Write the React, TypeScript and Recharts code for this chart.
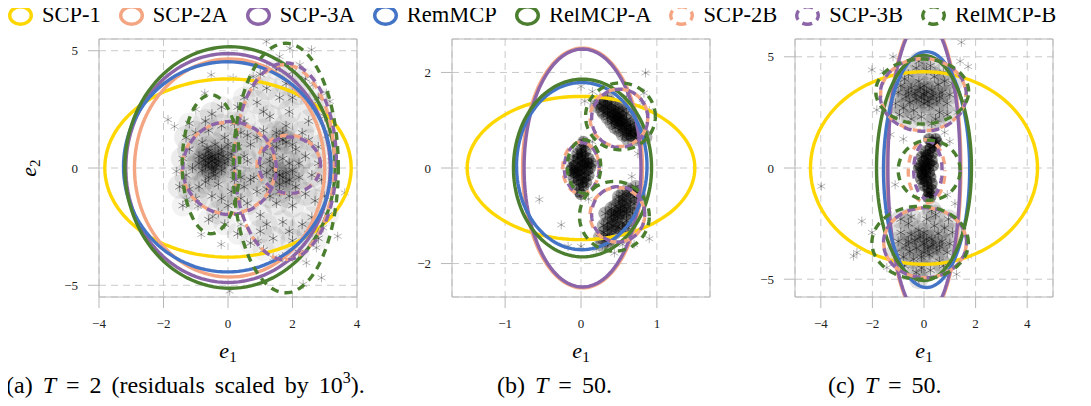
import React from "react";
import { ScatterChart, Scatter, XAxis, YAxis, CartesianGrid } from "recharts";

const FONT = '"Liberation Serif", "Times New Roman", serif';

type Pt = [number, number];
// cx, cy, rx, ry in data units
type Ell = [number, number, number, number];

const SERIES = [
  { name: "SCP-1", color: "#FFD700", dashed: false },
  { name: "SCP-2A", color: "#F4A582", dashed: false },
  { name: "SCP-3A", color: "#8C65A8", dashed: false },
  { name: "RemMCP", color: "#4474C6", dashed: false },
  { name: "RelMCP-A", color: "#4B7F2F", dashed: false },
  { name: "SCP-2B", color: "#F4A582", dashed: true },
  { name: "SCP-3B", color: "#8C65A8", dashed: true },
  { name: "RelMCP-B", color: "#4B7F2F", dashed: true },
];

// ---------- panel (a) ----------
const aTicksX = [-4, -2, 0, 2, 4];
const aTicksY = [-5, 0, 5];
const aLeftCloud: Pt[] = [
  [-0.5, 0.3], [-0.3, 0.6], [-0.7, 0.1], [-0.2, -0.1], [-0.9, 0.5], [-0.4, 1.0], [-0.6, -0.4], [-1.1, 0.0],
  [0.0, 0.4], [-0.1, 1.3], [-0.8, 1.1], [-1.2, 0.8], [-0.3, -0.7], [-0.9, -0.8], [0.2, 0.0], [-1.3, -0.3],
  [-0.6, 1.6], [-0.2, 1.8], [0.3, 0.9], [0.4, -0.4], [-0.5, -1.2], [-1.0, -1.3], [0.1, -1.0], [-0.7, 2.0],
  [-1.4, 0.4], [0.5, 0.5], [-0.4, 0.0], [-0.8, -0.1], [-0.1, 0.2], [-0.6, 0.7], [-1.0, 1.5], [0.0, -1.6],
  [-0.3, -1.9], [0.6, 1.4], [0.2, 1.9], [-1.2, -0.9], [-0.5, 2.3], [0.4, -1.3], [0.7, -0.5], [-0.9, 0.2],
  [-0.2, 0.8], [-0.4, -0.3], [0.1, 0.6], [-0.7, -0.6], [-0.55, 0.45], [-0.35, 0.15], [-0.75, 0.35],
  [-0.15, 0.5], [-0.45, -0.15], [-0.65, 0.85], [-0.5, 0.5], [-0.6, 0.2], [-0.4, 0.4], [-0.7, 0.5],
  [-0.3, 0.3], [-0.5, 0.0], [-1.5, -0.8], [-1.3, 1.3], [0.0, 1.0], [0.2, -0.5], [-0.2, -1.3],
];
const aRightCloud: Pt[] = [
  [1.6, -0.3], [1.4, 0.5], [1.9, 0.2], [1.2, -0.9], [2.1, -0.8], [1.7, 1.2], [1.0, 0.1], [2.4, 0.5],
  [1.5, -1.5], [2.0, -1.6], [1.1, 1.6], [2.3, 1.5], [0.8, -0.4], [2.6, -0.3], [1.3, 2.2], [1.9, 2.4],
  [2.5, 2.0], [1.0, -2.0], [1.7, -2.3], [2.3, -2.4], [0.7, 1.0], [2.8, 0.9], [2.7, -1.4], [1.4, -3.0],
  [2.0, -3.1], [1.6, 3.0], [2.2, 3.2], [0.9, 2.8], [1.2, -0.2], [1.8, -0.6], [2.1, 0.8], [1.5, 0.9],
  [1.3, -1.2], [2.4, -1.1], [1.8, 1.8], [1.1, 0.7], [2.0, -0.1], [1.6, -1.0], [0.6, -1.5], [2.9, -0.5],
  [2.6, 2.7], [1.2, 3.4], [1.8, 3.6], [2.5, -2.8], [1.0, -2.7], [0.5, 2.0], [2.2, -0.4], [1.4, 0.0],
  [1.7, 0.4], [1.9, -1.2], [1.5, 1.5], [2.2, 0.2], [1.3, 0.3], [1.6, -0.7], [1.7, -0.4], [1.5, -0.2],
  [1.8, -0.2], [1.9, -0.5], [1.4, -0.5], [1.6, 1.3], [1.8, 1.1], [1.7, 1.5],
];
const aOuterCloud: Pt[] = [
  [-1.2, 1.9], [-1.4, -1.6], [-0.2, 2.6], [0.3, 2.6], [0.5, 3.0], [0.8, 3.5], [1.0, 4.0], [1.5, 4.2],
  [2.0, 4.1], [2.4, 3.8], [2.8, 3.0], [3.0, 2.2], [3.1, 1.4], [3.0, -1.2], [3.1, -2.0], [2.8, -3.0],
  [2.2, -3.6], [1.7, -3.8], [1.1, -3.5], [0.7, -3.2], [0.3, -2.8], [-0.1, -2.4], [-0.6, -2.2], [0.5, -0.8],
  [0.6, 0.3], [0.4, 1.5], [0.9, -1.0], [0.9, 1.3], [1.3, 1.0], [2.0, 1.0], [2.5, 1.2], [2.6, -2.1],
  [1.2, -2.4], [1.9, -2.7], [2.8, 0.2], [1.1, 2.4], [2.0, 3.0],
];
const aStray: Pt[] = [
  [-1.86, 2.06], [-1.66, 1.77], [-0.72, 3.19], [-0.52, 3.97], [0.16, 3.83], [1.19, 5.39], [1.92, 5.1],
  [2.59, 5.04], [2.23, 4.4], [3.05, 3.19], [3.16, 2.84], [3.62, -1.06], [3.4, -2.91], [2.9, -4.68],
  [2.33, -4.96], [0.05, -5.25], [-0.21, -3.26], [-0.83, -2.84], [-0.47, -2.06], [-1.6, -0.14],
  [-1.29, -1.35], [-0.93, -1.63], [0.93, -3.12], [1.4, -3.83], [2.43, -4.04], [2.74, -3.4], [2.95, -2.55],
  [2.64, 3.55], [0.78, 3.9], [1.6, 4.75], [3.2, 0.3], [-1.0, 2.5], [0.4, -2.4], [1.2, 4.3],
];
// one list per series, in SERIES order
const aShapes: Ell[][] = [
  [[0, 0, 3.82, 3.8]],
  [[0.05, 0, 2.95, 4.65]],
  [[0, 0, 3.17, 4.88]],
  [[-0.02, 0.05, 3.22, 4.48]],
  [[0.06, 0.02, 3.26, 5.15]],
  [[0.02, 0.0, 1.45, 1.95], [1.88, 0.15, 0.98, 1.25], [1.75, 0.25, 1.55, 4.15]],
  [[0.05, 0.0, 1.45, 1.98], [1.92, 0.12, 0.95, 1.2], [1.78, 0.28, 1.58, 4.2]],
  [[-0.53, 0.16, 0.89, 2.96], [1.79, 0.0, 1.63, 5.32]],
];

// ---------- panel (b) ----------
const bTicksX = [-1, 0, 1];
const bTicksY = [-2, 0, 2];
const bUpperCloud: Pt[] = [
  [0.5, 1.0], [0.45, 1.1], [0.55, 0.9], [0.4, 1.2], [0.6, 0.8], [0.35, 1.25], [0.65, 0.7], [0.3, 1.3],
  [0.7, 0.65], [0.5, 1.15], [0.6, 1.0], [0.4, 0.95], [0.55, 1.2], [0.45, 0.85], [0.65, 0.9], [0.35, 1.05],
  [0.7, 0.8], [0.3, 1.15], [0.75, 0.6], [0.25, 1.35], [0.6, 1.15], [0.5, 0.8], [0.4, 1.35], [0.7, 0.95],
  [0.55, 0.7], [0.45, 1.3], [0.62, 0.6], [0.32, 1.4], [0.8, 0.75], [0.28, 1.2], [0.52, 1.05], [0.48, 0.95],
  [0.58, 0.85], [0.42, 1.05], [0.66, 0.78], [0.38, 1.18], [0.5, 1.25], [0.6, 0.7], [0.72, 0.72],
  [0.35, 1.45], [0.2, 1.3], [0.85, 0.65], [0.53, 0.98], [0.47, 1.02], [0.57, 0.93], [0.43, 1.12],
];
const bMidCloud: Pt[] = [
  [0.0, 0.0], [0.05, 0.1], [-0.05, -0.1], [0.02, 0.25], [-0.03, -0.25], [0.08, -0.05], [-0.08, 0.05],
  [0.0, 0.4], [0.03, -0.4], [0.1, 0.2], [-0.1, -0.2], [-0.05, 0.3], [0.07, -0.3], [0.0, 0.15], [0.0, -0.15],
  [0.12, 0.0], [-0.12, 0.0], [0.04, 0.5], [-0.02, -0.5], [0.06, 0.35], [-0.06, -0.35], [0.09, 0.1],
  [-0.09, -0.1], [0.02, 0.05], [-0.02, -0.05], [0.1, -0.15], [-0.1, 0.15], [0.05, -0.2], [-0.04, 0.2],
  [0.03, 0.55], [0.0, -0.55], [0.14, 0.1], [-0.13, -0.05], [0.01, 0.3], [0.02, -0.3],
];
const bLowerCloud: Pt[] = [
  [0.5, -0.95], [0.55, -0.8], [0.45, -1.1], [0.6, -0.65], [0.4, -1.25], [0.65, -0.5], [0.35, -1.4],
  [0.5, -0.7], [0.6, -0.95], [0.4, -1.0], [0.55, -1.15], [0.45, -0.8], [0.65, -0.8], [0.35, -1.15],
  [0.7, -0.6], [0.3, -1.35], [0.6, -1.1], [0.4, -0.85], [0.55, -0.55], [0.45, -1.35], [0.7, -0.75],
  [0.3, -1.2], [0.62, -0.45], [0.38, -1.5], [0.5, -1.25], [0.58, -0.7], [0.42, -1.2], [0.68, -0.95],
  [0.32, -0.95], [0.75, -0.5], [0.25, -1.45], [0.52, -0.88], [0.48, -1.02], [0.57, -0.9], [0.43, -0.98],
  [0.5, -0.6], [0.55, -1.3], [0.35, -1.55], [0.72, -0.4], [0.62, -1.25], [0.28, -1.6], [0.78, -0.62],
];
const bStray: Pt[] = [
  [0.85, 1.99], [0.83, 1.57], [0.81, 1.36], [0.0, 1.71], [0.05, 1.4], [-0.55, -0.66], [-0.26, -1.19],
  [-0.17, -1.64], [0.0, -1.64], [0.44, -1.78], [0.7, -1.6], [0.9, -1.48], [0.67, -0.18], [0.15, 1.6],
  [0.9, 1.2], [0.2, -1.7], [0.75, 0.3], [0.1, -0.65], [0.15, 0.55], [0.55, -1.6], [0.25, 1.5], [0.6, 1.5],
];
const bShapes: Ell[][] = [
  [[0, 0, 1.5, 1.5]],
  [[0.02, 0, 0.79, 2.51]],
  [[0.02, 0, 0.77, 2.49]],
  [[0.01, 0.04, 0.86, 1.75]],
  [[0.02, 0, 0.91, 1.86]],
  [[0.5, 1.05, 0.38, 0.6], [0.0, 0.0, 0.24, 0.54], [0.48, -0.98, 0.36, 0.57]],
  [[0.51, 1.04, 0.37, 0.61], [0.01, 0.0, 0.23, 0.53], [0.49, -0.97, 0.35, 0.58]],
  [[0.52, 1.08, 0.46, 0.7], [0.04, 0.03, 0.22, 0.56], [0.44, -1.01, 0.46, 0.73]],
];

// ---------- panel (c) ----------
const cTicksX = [-4, -2, 0, 2, 4];
const cTicksY = [-5, 0, 5];
const cUpperCloud: Pt[] = [
  [0, 3.3], [0.3, 3.5], [-0.3, 3.1], [0.5, 3.0], [-0.5, 3.6], [0.2, 2.8], [-0.2, 3.9], [0.7, 3.4],
  [-0.7, 3.2], [0.4, 4.1], [-0.4, 2.6], [0.9, 2.9], [-0.9, 3.7], [0.1, 4.4], [-0.1, 2.3], [0.6, 2.5],
  [-0.6, 4.2], [0.8, 3.9], [-0.8, 2.7], [0.0, 3.7], [0.0, 2.9], [0.35, 3.25], [-0.35, 3.35], [0.55, 3.75],
  [-0.55, 2.95], [1.0, 3.3], [-1.0, 3.4], [0.25, 4.6], [-0.3, 4.5], [0.45, 2.2], [-0.5, 2.2], [0.75, 4.3],
  [-0.75, 4.0], [1.1, 3.8], [-1.1, 2.9], [0.15, 3.0], [-0.15, 3.6], [0.6, 3.2], [-0.6, 3.4], [0.3, 2.0],
  [-0.2, 4.8], [0.9, 2.4], [-0.95, 2.4], [0.1, 3.45], [-0.1, 3.15],
];
const cMidCloud: Pt[] = [
  [0.05, 0.0], [0.0, 0.3], [-0.05, -0.3], [0.15, 0.6], [0.1, -0.6], [0.25, 0.9], [0.15, -0.9], [0.3, 1.15],
  [0.2, -1.15], [-0.15, 0.1], [-0.1, -0.2], [0.2, 0.2], [0.2, -0.2], [0.1, 0.45], [0.0, -0.45], [0.35, 0.7],
  [0.3, -0.7], [0.4, 1.0], [0.3, -1.0], [-0.2, 0.0], [0.3, 0.35], [0.25, -0.4], [0.05, 0.75], [0.0, -0.8],
  [0.45, 1.3], [0.15, -1.3], [-0.1, 0.5], [-0.12, -0.5], [0.35, 0.1], [0.1, 0.1], [0.08, -0.1], [0.2, 1.3],
  [0.5, 1.15], [0.25, -1.3],
];
const cLowerCloud: Pt[] = [
  [0, -3.4], [0.3, -3.2], [-0.3, -3.6], [0.5, -3.7], [-0.5, -3.0], [0.2, -3.9], [-0.2, -2.8], [0.7, -3.3],
  [-0.7, -3.5], [0.4, -2.6], [-0.4, -4.1], [0.9, -3.8], [-0.9, -2.9], [0.1, -2.3], [-0.1, -4.5], [0.6, -4.2],
  [-0.6, -2.5], [0.8, -2.7], [-0.8, -4.0], [0.0, -2.9], [0.0, -3.8], [0.35, -3.45], [-0.35, -3.25],
  [0.55, -2.95], [-0.55, -3.75], [1.0, -3.4], [-1.0, -3.3], [0.25, -4.6], [-0.3, -4.7], [0.45, -2.1],
  [-0.5, -2.2], [0.75, -4.4], [-0.75, -4.4], [1.1, -2.9], [-1.1, -3.8], [0.15, -3.6], [-0.15, -3.1],
  [0.6, -3.5], [-0.6, -3.3], [0.3, -1.9], [-0.2, -5.0], [0.95, -2.3], [-0.9, -2.3], [0.1, -3.2], [-0.1, -4.0],
];
const cStray: Pt[] = [
  [1.45, 5.65], [1.71, 4.56], [-2.02, 4.41], [-1.57, 4.33], [-1.83, 2.61], [-3.98, -0.82], [-2.41, -2.39],
  [-2.73, -3.96], [-2.6, -3.8], [-1.12, -0.75], [1.0, 1.19], [1.26, -4.78], [1.71, -3.96], [-1.44, -4.48],
  [-2.02, -2.9], [1.3, 2.5], [-1.3, 1.5], [1.2, -1.6], [0.8, 1.6], [-1.4, -1.9], [1.4, 4.8], [-1.2, 5.0],
  [0.9, -1.2], [-0.8, 1.3],
];
const cShapes: Ell[][] = [
  [[0, 0, 4.4, 4.33]],
  [[0, 0, 1.43, 6.75]],
  [[0, 0, 1.4, 6.7]],
  [[0.1, -0.07, 1.67, 5.3]],
  [[0, 0, 1.84, 5.06]],
  [[-0.03, 3.3, 1.65, 1.62], [0.1, -0.15, 0.71, 1.42], [0.04, -3.36, 1.6, 1.57]],
  [[-0.03, 3.29, 1.67, 1.64], [0.15, -0.1, 0.55, 1.3], [0.04, -3.36, 1.61, 1.57]],
  [[-0.07, 3.44, 1.8, 1.46], [0.2, -0.1, 1.2, 1.35], [-0.15, -3.36, 1.87, 1.64]],
];

// trace an ellipse outline from its centre and radii
const outline = ([cx, cy, rx, ry]: Ell) =>
  Array.from({ length: 121 }, (_, i) => {
    const t = (i / 120) * 2 * Math.PI;
    return { x: cx + rx * Math.cos(t), y: cy + ry * Math.sin(t) };
  });

const toXY = (pts: Pt[]) => pts.map(([x, y]) => ({ x, y }));

const fmt = (v: number) => (v < 0 ? `\u2212${-v}` : `${v}`);

// asterisk marker, optionally with a soft shadow so dense clouds read as a dark mass
const makeStar = (opacity: number, r: number, halo = 0, haloAlpha = 0) => (props: any) => {
  const { cx, cy } = props;
  if (cx == null || cy == null) return <g />;
  const a = r * 0.866;
  const b = r * 0.5;
  return (
    <g>
      {halo > 0 && <circle cx={cx} cy={cy} r={halo} fill="#000" fillOpacity={haloAlpha} />}
      <path
        d={`M${cx},${cy - r}L${cx},${cy + r}M${cx - a},${cy - b}L${cx + a},${cy + b}M${cx - a},${cy + b}L${cx + a},${cy - b}`}
        stroke="#000"
        strokeOpacity={opacity}
        strokeWidth={1}
        fill="none"
      />
    </g>
  );
};
const strayStar = makeStar(0.28, 4.6);
const noDot = () => <g />;

const BOX = 258;
const AXIS = "#b8b8b8";
const tickStyle = { fill: "#222", fontSize: 13, fontFamily: FONT };

interface Cloud {
  pts: Pt[];
  halo: number;
  alpha: number;
}

interface PanelProps {
  left: number;
  xDomain: [number, number];
  yDomain: [number, number];
  xTicks: number[];
  yTicks: number[];
  clouds: Cloud[];
  stray: Pt[];
  shapes: Ell[][];
}

function Panel({ left, xDomain, yDomain, xTicks, yTicks, clouds, stray, shapes }: PanelProps) {
  return (
    <div style={{ position: "absolute", left: left - 60, top: 19 }}>
      <ScatterChart width={BOX + 80} height={BOX + 60} margin={{ top: 0, right: 0, bottom: 0, left: 0 }}>
        <CartesianGrid stroke="#c9c9c9" strokeDasharray="7 5" />
        <XAxis
          dataKey="x"
          type="number"
          domain={xDomain}
          ticks={xTicks}
          interval={0}
          allowDataOverflow
          height={40}
          tickSize={11}
          tickMargin={11}
          stroke={AXIS}
          tick={tickStyle}
          tickFormatter={fmt}
        />
        <XAxis
          xAxisId="top"
          orientation="top"
          type="number"
          domain={xDomain}
          ticks={xTicks}
          interval={0}
          allowDataOverflow
          height={20}
          tickSize={11}
          stroke={AXIS}
          tick={false}
        />
        <YAxis
          dataKey="y"
          type="number"
          domain={yDomain}
          ticks={yTicks}
          interval={0}
          allowDataOverflow
          width={60}
          tickSize={11}
          tickMargin={10}
          stroke={AXIS}
          tick={tickStyle}
          tickFormatter={fmt}
        />
        <YAxis
          yAxisId="right"
          orientation="right"
          type="number"
          domain={yDomain}
          ticks={yTicks}
          interval={0}
          allowDataOverflow
          width={20}
          tickSize={11}
          stroke={AXIS}
          tick={false}
        />
        {clouds.map((c, i) => (
          <Scatter
            key={`c${i}`}
            data={toXY(c.pts)}
            shape={makeStar(0.42, 5, c.halo, c.alpha)}
            isAnimationActive={false}
          />
        ))}
        <Scatter data={toXY(stray)} shape={strayStar} isAnimationActive={false} />
        {shapes.map((list, si) =>
          list.map((e, ei) => {
            const s = SERIES[si];
            return (
              <Scatter
                key={`e${si}-${ei}`}
                data={outline(e)}
                shape={noDot}
                fill={s.color}
                line={{
                  stroke: s.color,
                  strokeWidth: 3.4,
                  strokeDasharray: s.dashed ? "8 6" : undefined,
                  strokeDashoffset: si === 5 ? 7 : 0,
                }}
                isAnimationActive={false}
              />
            );
          })
        )}
      </ScatterChart>
    </div>
  );
}

function Legend() {
  return (
    <div
      style={{
        position: "absolute",
        left: 8,
        top: 0,
        height: 30,
        display: "flex",
        alignItems: "center",
        gap: 18,
        fontFamily: FONT,
        fontSize: 22.5,
        whiteSpace: "nowrap",
        color: "#000",
      }}
    >
      {SERIES.map((s) => (
        <div key={s.name} style={{ display: "flex", alignItems: "center" }}>
          <svg width={25} height={21} style={{ marginRight: 9 }}>
            <ellipse
              cx={12.5}
              cy={10.5}
              rx={10.8}
              ry={8.7}
              fill="none"
              stroke={s.color}
              strokeWidth={3.4}
              strokeDasharray={s.dashed ? "10 5.5" : undefined}
              strokeDashoffset={s.dashed ? 5 : 0}
            />
          </svg>
          <span>{s.name}</span>
        </div>
      ))}
    </div>
  );
}

export default function App() {
  return (
    <div style={{ position: "relative", width: 1091, height: 406, margin: -8, background: "#fff", overflow: "hidden" }}>
      <Legend />
      <Panel left={99} xDomain={[-4, 4]} yDomain={[-5.5, 5.5]} xTicks={aTicksX} yTicks={aTicksY}
        clouds={[
          { pts: aLeftCloud, halo: 12, alpha: 0.075 },
          { pts: aRightCloud, halo: 12, alpha: 0.075 },
          { pts: aOuterCloud, halo: 11, alpha: 0.05 },
        ]}
        stray={aStray} shapes={aShapes} />
      <Panel left={452} xDomain={[-1.7, 1.7]} yDomain={[-2.7, 2.7]} xTicks={bTicksX} yTicks={bTicksY}
        clouds={[
          { pts: bUpperCloud, halo: 7, alpha: 0.3 },
          { pts: bMidCloud, halo: 6, alpha: 0.4 },
          { pts: bLowerCloud, halo: 7, alpha: 0.3 },
        ]}
        stray={bStray} shapes={bShapes} />
      <Panel left={795} xDomain={[-5, 5]} yDomain={[-5.8, 5.8]} xTicks={cTicksX} yTicks={cTicksY}
        clouds={[
          { pts: cUpperCloud, halo: 10, alpha: 0.12 },
          { pts: cMidCloud, halo: 6, alpha: 0.45 },
          { pts: cLowerCloud, halo: 10, alpha: 0.12 },
        ]}
        stray={cStray} shapes={cShapes} />
      <svg width={1091} height={406} style={{ position: "absolute", left: 0, top: 0, pointerEvents: "none" }}
        fontFamily={FONT}>
        <text x={30} y={168} fontSize={22} textAnchor="middle" transform="rotate(-90 30 168)" dy={6}>
          <tspan fontStyle="italic">e</tspan>
          <tspan fontSize={15} dy={4}>2</tspan>
        </text>
        {[228, 581, 924].map((cx) => (
          <text key={cx} x={cx} y={358} fontSize={22} textAnchor="middle">
            <tspan fontStyle="italic">e</tspan>
            <tspan fontSize={15} dy={4}>1</tspan>
          </text>
        ))}
        <text x={6} y={393} fontSize={24} wordSpacing={4}>
          (a) <tspan fontStyle="italic">T</tspan> = 2 (residuals scaled by 10
          <tspan fontSize={16} dy={-10}>3</tspan>
          <tspan dy={10}>).</tspan>
        </text>
        <text x={497} y={393} fontSize={24} wordSpacing={4}>
          (b) <tspan fontStyle="italic">T</tspan> = 50.
        </text>
        <text x={828} y={393} fontSize={24} wordSpacing={4}>
          (c) <tspan fontStyle="italic">T</tspan> = 50.
        </text>
      </svg>
    </div>
  );
}
